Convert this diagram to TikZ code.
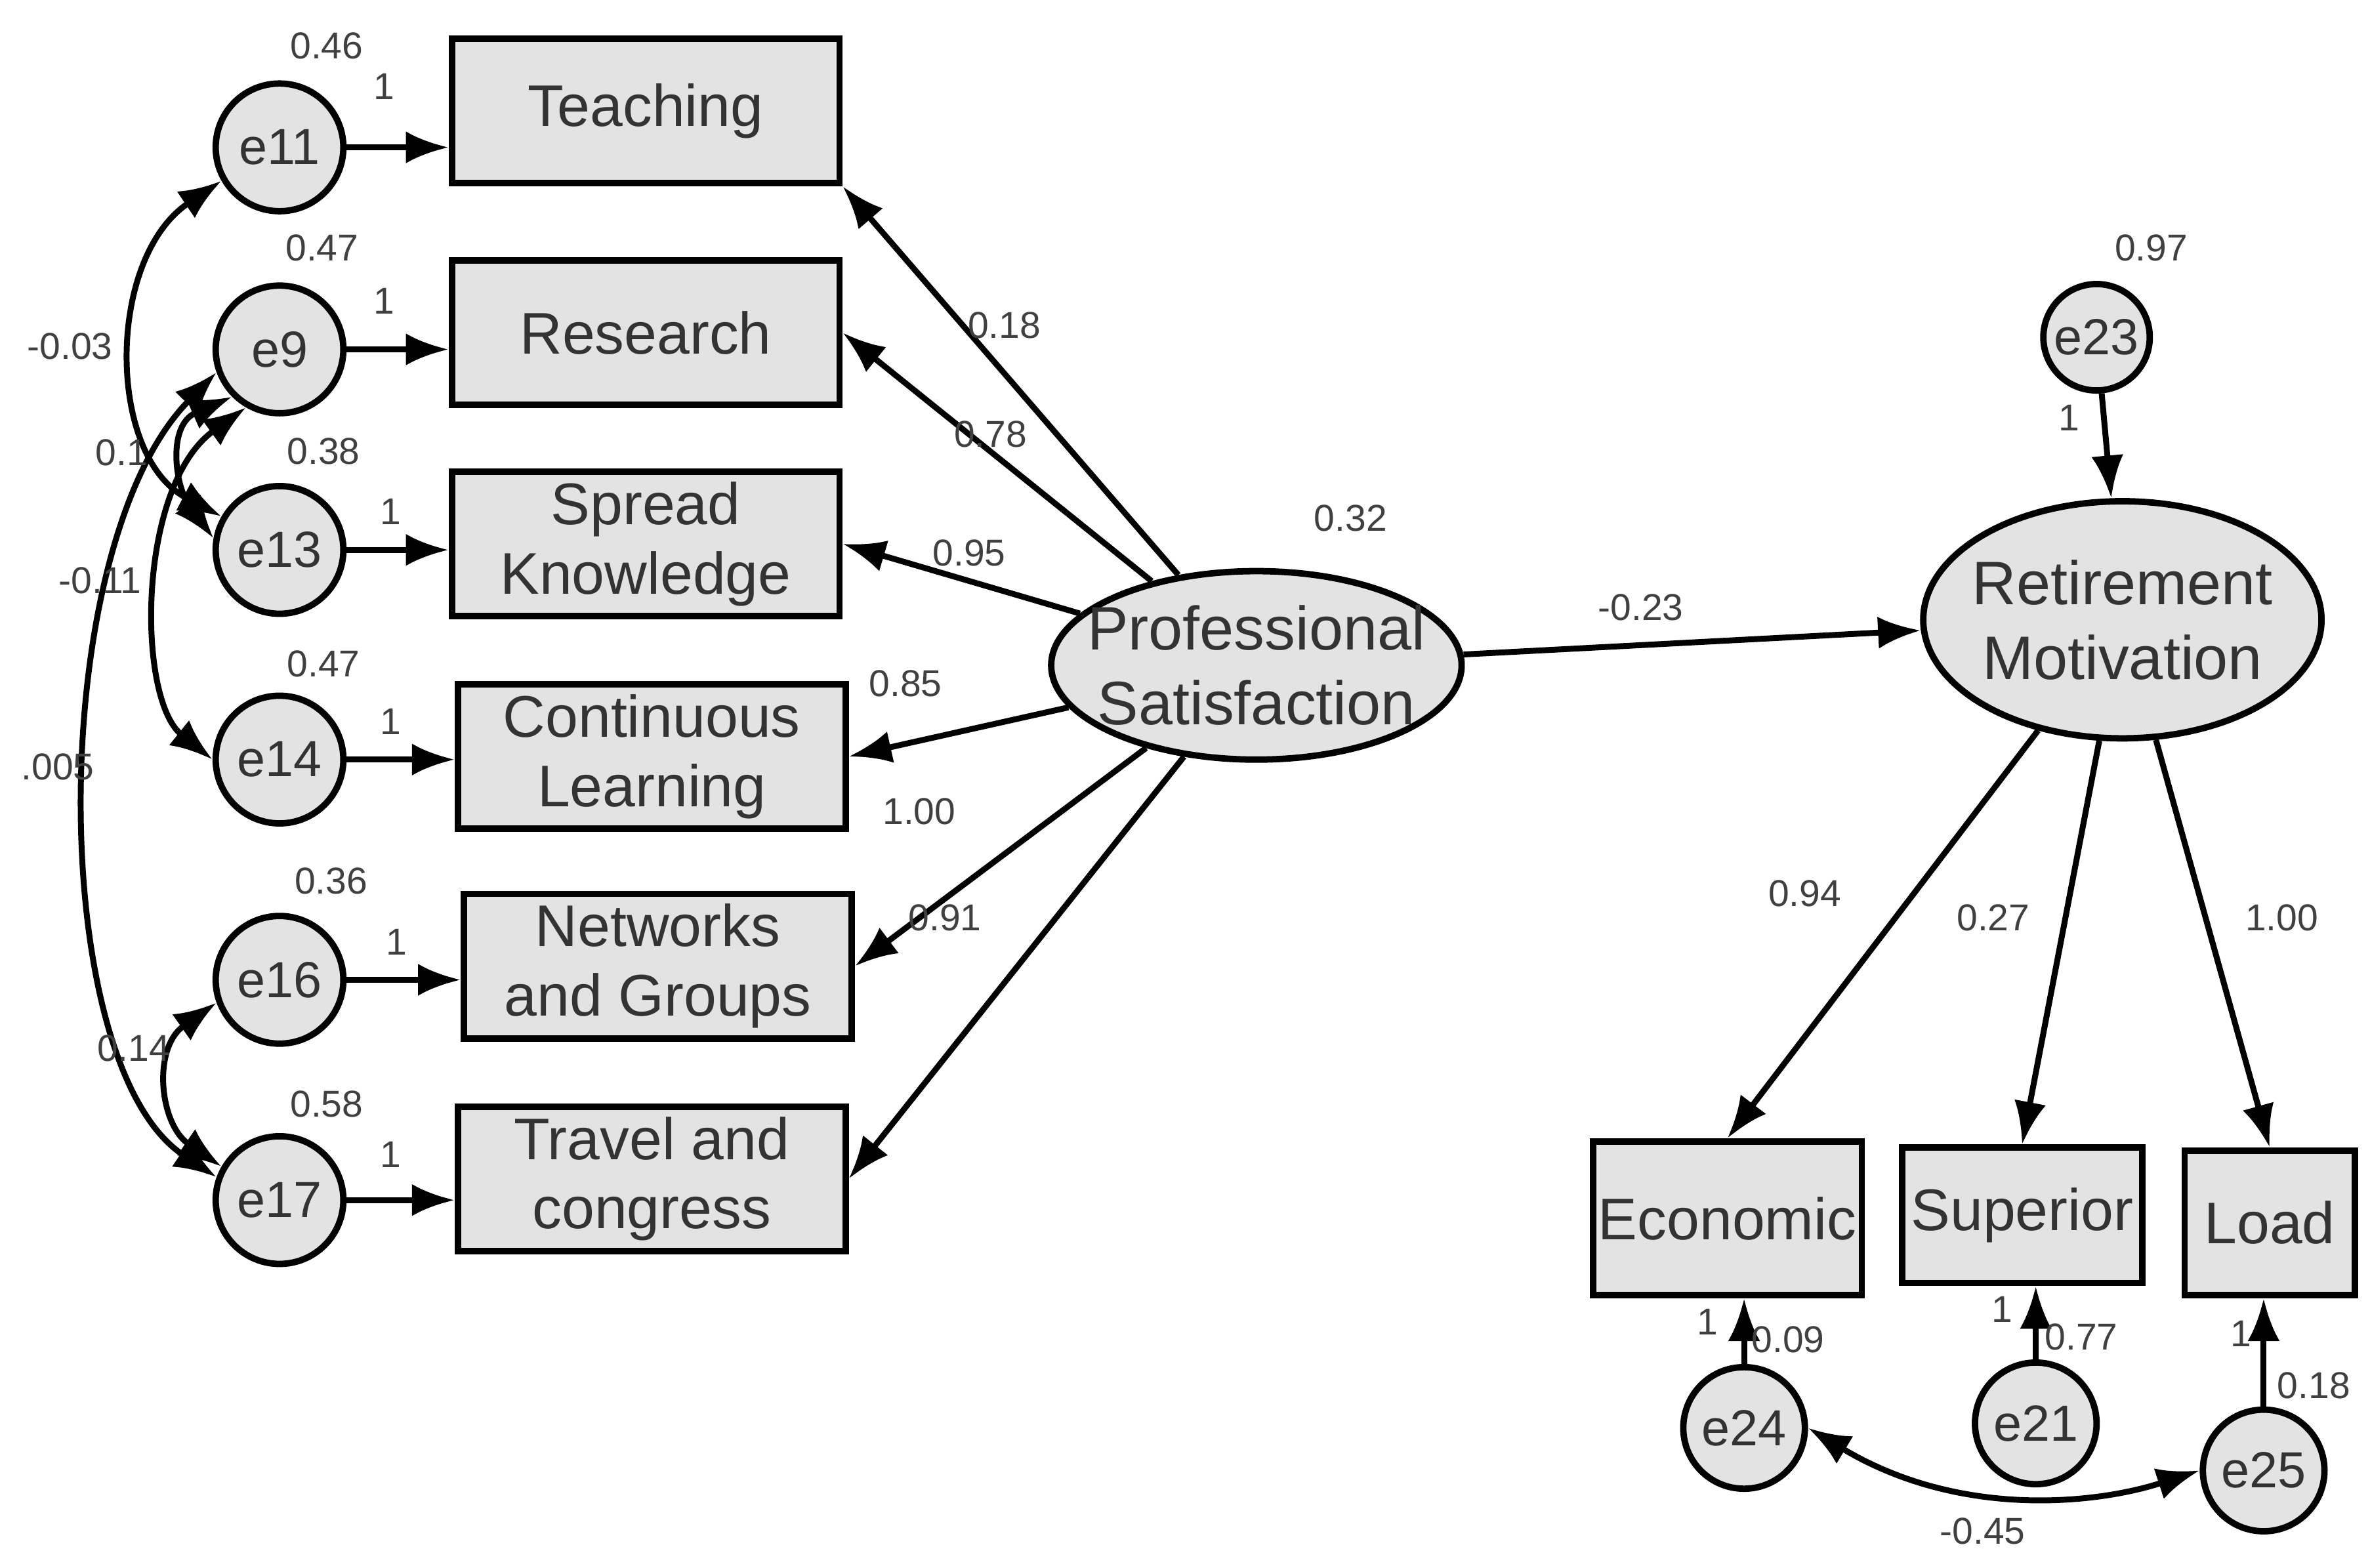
\documentclass[tikz,border=0pt]{standalone}
\usepackage{fontspec}
\setmainfont{Liberation Sans}
\usetikzlibrary{arrows.meta,shapes.geometric}
\begin{document}
\begin{tikzpicture}[x=0.01cm,y=-0.01cm,
 box/.style={draw,line width=1.2pt,fill=gray!22,minimum width=2.55cm,minimum height=0.95cm,font=\fontsize{11}{13}\selectfont,text=black!80,align=center,inner sep=1pt},
 err/.style={draw,line width=1.2pt,fill=gray!22,circle,minimum size=0.84cm,inner sep=0pt,font=\fontsize{9.5}{11}\selectfont,text=black!80},
 lat/.style={draw,line width=1.2pt,fill=gray!22,ellipse,font=\fontsize{11.5}{14}\selectfont,text=black!80,align=center,inner sep=-5pt},
 num/.style={font=\fontsize{7}{8}\selectfont,text=black!75,inner sep=1pt},
 arr/.style={line width=1.1pt,-{Latex[length=8pt,width=6pt]}},
 cov/.style={line width=1.1pt,{Latex[length=8pt,width=6pt]}-{Latex[length=8pt,width=6pt]}}]
\useasboundingbox (0,0) rectangle (1560,1032);
% left boxes
\node[box] (teach) at (425,73) {Teaching};
\node[box] (res) at (425,219) {Research};
\node[box] (spr) at (425,358) {Spread\\Knowledge};
\node[box] (con) at (429,498) {Continuous\\Learning};
\node[box] (net) at (433,636) {Networks\\and Groups};
\node[box] (tra) at (429,776) {Travel and\\congress};
% errors
\node[err] (e11) at (184,97) {e11};
\node[err] (e9) at (184,230) {e9};
\node[err] (e13) at (184,362) {e13};
\node[err] (e14) at (184,500) {e14};
\node[err] (e16) at (184,645) {e16};
\node[err] (e17) at (184,790) {e17};
% latents
\node[lat,minimum width=2.7cm,minimum height=1.24cm] (ps) at (827,438) {Professional\\Satisfaction};
\node[lat,minimum width=2.62cm,minimum height=1.56cm] (rm) at (1397,408) {Retirement\\Motivation};
\node[err,minimum size=0.7cm] (e23) at (1380,222) {e23};
% right boxes
\node[box,minimum width=1.7cm,minimum height=1.01cm] (eco) at (1137,802) {Economic};
\node[box,minimum width=1.58cm,minimum height=0.89cm] (sup) at (1331,800) {Superior};
\node[box,minimum width=1.12cm,minimum height=0.95cm] (load) at (1494,805) {Load};
\node[err,minimum size=0.8cm] (e24) at (1148,940) {e24};
\node[err,minimum size=0.8cm] (e21) at (1340,937) {e21};
\node[err,minimum size=0.8cm] (e25) at (1490,968) {e25};
% error arrows
\foreach \e/\b in {e11/teach,e9/res,e13/spr,e14/con,e16/net,e17/tra}
  \draw[arr] (\e) -- (\b.west |- \e);
\draw[arr] (ps) -- (teach.south east);
\draw[arr] (ps) -- (res.east);
\draw[arr] (ps) -- (spr.east);
\draw[arr] (ps) -- (con.east);
\draw[arr] (ps) -- (net.east);
\draw[arr] (ps) -- (tra.east);
\draw[arr] (ps) -- (rm);
\draw[arr] (e23) -- (rm);
\draw[arr] (rm) -- (eco.north);
\draw[arr] (rm) -- (sup.north);
\draw[arr] (rm) -- (load.north);
\draw[arr] (e24) -- (e24 |- eco.south);
\draw[arr] (e21) -- (e21 |- sup.south);
\draw[arr] (e25) -- (e25 |- load.south);
% covariances
\draw[cov] (e11.210) .. controls (70,170) and (70,300) .. (e13.150);
\draw[cov] (e9.225) .. controls (110,280) and (115,320) .. (e13.170);
\draw[cov] (e9.240) .. controls (90,320) and (90,460) .. (e14.180);
\draw[cov] (e9.200) .. controls (30,360) and (30,700) .. (e17.160);
\draw[cov] (e16.200) .. controls (100,690) and (105,740) .. (e17.150);
\draw[cov] (e24.east) .. controls (1290,1000) and (1380,990) .. (e25.west);
% labels
\node[num] at (215,30) {0.46};
\node[num] at (212,163) {0.47};
\node[num] at (213,297) {0.38};
\node[num] at (213,437) {0.47};
\node[num] at (218,580) {0.36};
\node[num] at (215,727) {0.58};
\node[num] at (253,57) {1};
\node[num] at (253,198) {1};
\node[num] at (257,337) {1};
\node[num] at (257,475) {1};
\node[num] at (261,620) {1};
\node[num] at (257,760) {1};
\node[num] at (46,228) {-0.03};
\node[num] at (80,298) {0.1};
\node[num] at (66,382) {-0.11};
\node[num] at (38,505) {.005};
\node[num] at (88,690) {0.14};
\node[num] at (661,214) {0.18};
\node[num] at (652,286) {0.78};
\node[num] at (638,364) {0.95};
\node[num] at (596,450) {0.85};
\node[num] at (605,534) {1.00};
\node[num] at (622,604) {0.91};
\node[num] at (889,341) {0.32};
\node[num] at (1080,400) {-0.23};
\node[num] at (1416,163) {0.97};
\node[num] at (1362,275) {1};
\node[num] at (1188,588) {0.94};
\node[num] at (1312,604) {0.27};
\node[num] at (1502,604) {1.00};
\node[num] at (1124,870) {1};
\node[num] at (1177,882) {0.09};
\node[num] at (1318,862) {1};
\node[num] at (1370,880) {0.77};
\node[num] at (1475,878) {1};
\node[num] at (1523,912) {0.18};
\node[num] at (1305,1008) {-0.45};
\end{tikzpicture}
\end{document}
